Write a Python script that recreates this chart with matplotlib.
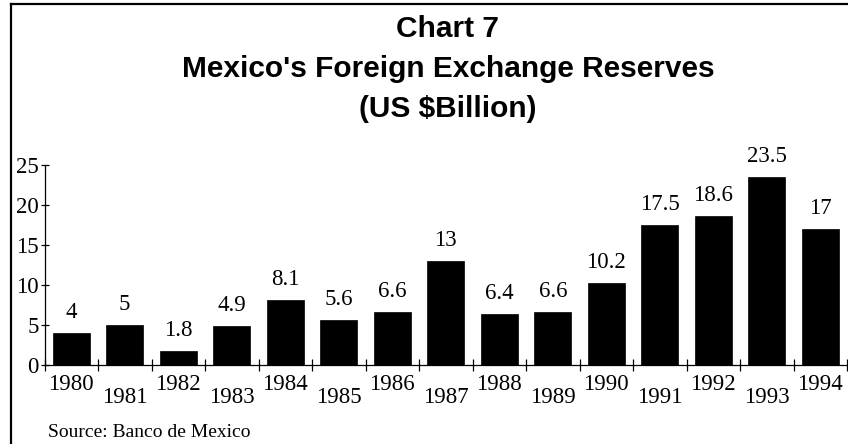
import matplotlib
matplotlib.use("Agg")
import matplotlib.pyplot as plt
from matplotlib.lines import Line2D

years = ["1980", "1981", "1982", "1983", "1984", "1985", "1986", "1987",
         "1988", "1989", "1990", "1991", "1992", "1993", "1994"]
reserves = [4, 5, 1.8, 4.9, 8.1, 5.6, 6.6, 13, 6.4, 6.6, 10.2, 17.5, 18.6, 23.5, 17]
value_labels = ["4", "5", "1.8", "4.9", "8.1", "5.6", "6.6", "13", "6.4", "6.6",
                "10.2", "17.5", "18.6", "23.5", "17"]
yticks = [0, 5, 10, 15, 20, 25]
title_lines = ["Chart 7", "Mexico's Foreign Exchange Reserves", "(US $Billion)"]
source = "Source: Banco de Mexico"

W, H = 848, 444
fig = plt.figure(figsize=(W / 100, H / 100), dpi=100)
fig.patch.set_facecolor("white")

serif = "Liberation Serif"
sans = "Liberation Sans"
fs = 16.5

ax = fig.add_axes([44.5 / W, 79 / H, (847 - 44.5) / W, 200 / H])
x = list(range(len(years)))
ax.bar(x, reserves, width=0.69, color="black", edgecolor="black", linewidth=0.5)
ax.set_xlim(-0.5, len(years) - 0.5)
ax.set_ylim(0, 25)

for s in ("top", "right"):
    ax.spines[s].set_visible(False)
for s in ("left", "bottom"):
    ax.spines[s].set_linewidth(0.9)
    ax.spines[s].set_color("black")

ax.set_yticks(yticks)
ax.set_yticklabels([str(t) for t in yticks], fontsize=fs, family=serif)
ax.tick_params(axis="y", direction="inout", length=6, width=0.9, pad=1)

ax.set_xticks([])
ax.set_xticks([i - 0.5 for i in range(len(years) + 1)], minor=True)
ax.tick_params(axis="x", which="minor", direction="inout", length=8, width=0.9)
ax.tick_params(axis="x", which="major", length=0)

for i, (v, lab) in enumerate(zip(reserves, value_labels)):
    ax.annotate(lab, (i, v), xytext=(0, 15), textcoords="offset pixels",
                ha="center", va="baseline", fontsize=fs, family=serif)

for i, yr in enumerate(years):
    off = 9 if i % 2 == 0 else 22
    ax.annotate(yr, (i, 0), xycoords=("data", "axes fraction"),
                xytext=(0, -off), textcoords="offset pixels",
                ha="center", va="top", fontsize=fs, family=serif)

# Title
baselines = [37, 77, 117]
for t, b in zip(title_lines, baselines):
    fig.text(448 / W, 1 - b / H, t, ha="center", va="baseline",
             fontsize=21.5, fontweight="bold", family=sans)

fig.text(48 / W, 1 - 437 / H, source, ha="left", va="baseline",
         fontsize=14, family=serif)

# Figure border (left and top visible)
fig.add_artist(Line2D([11 / W, 11 / W], [0, 1 - 4.5 / H], transform=fig.transFigure,
                      color="black", linewidth=1.6))
fig.add_artist(Line2D([11 / W, 1], [1 - 4.5 / H, 1 - 4.5 / H], transform=fig.transFigure,
                      color="black", linewidth=1.6))

fig.savefig("out.png", dpi=100)
